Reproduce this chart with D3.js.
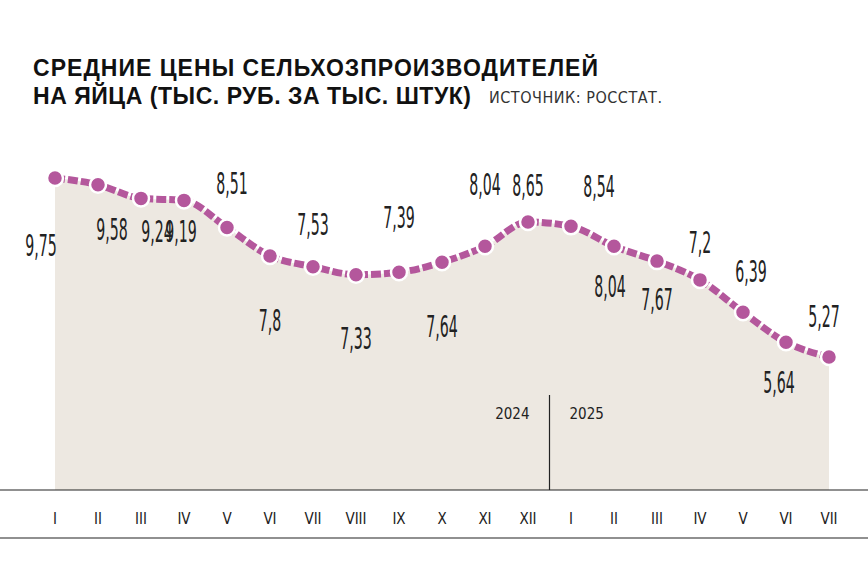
<!DOCTYPE html>
<html><head><meta charset="utf-8">
<script src="https://cdn.jsdelivr.net/npm/d3@7"></script>
<style>body{margin:0;background:#fff}</style>
</head><body>
<svg id="c" width="868" height="569"></svg>
<script>
var months = ["I","II","III","IV","V","VI","VII","VIII","IX","X","XI","XII","I","II","III","IV","V","VI","VII"];
var prices = [9.75,9.58,9.24,9.19,8.51,7.8,7.53,7.33,7.39,7.64,8.04,8.65,8.54,8.04,7.67,7.2,6.39,5.64,5.27];
var labels = ["9,75","9,58","9,24","9,19","8,51","7,8","7,53","7,33","7,39","7,64","8,04","8,65","8,54","8,04","7,67","7,2","6,39","5,64","5,27"];
// label placement relative to each dot
var labelDx = [-14,14,16,-3,5,0,0,0,0,0,0,0,28,-4,0,0,8,-7,-5];
var labelDy = [67,45,33,31,-44,64,-42,64,-55,64,-62,-37,-40,40,38,-38,-41,40,-41];
var years = ["2024","2025"];

var svg = d3.select("#c");
var x = d3.scaleLinear().domain([0, 18]).range([55, 829]);
var y = d3.scaleLinear().domain([5.27, 9.75]).range([357, 178]);
var base = 490;

svg.append("path").datum(prices)
  .attr("d", d3.area().x(function(d,i){return x(i);}).y0(base).y1(function(d){return y(d);}).curve(d3.curveMonotoneX))
  .attr("fill", "#ede8e1");

svg.append("path").datum(prices)
  .attr("d", d3.line().x(function(d,i){return x(i);}).y(function(d){return y(d);}).curve(d3.curveMonotoneX))
  .attr("fill", "none").attr("stroke", "#b4579c").attr("stroke-width", 7)
  .attr("stroke-dasharray", "10,3");

svg.selectAll("circle").data(prices).enter().append("circle")
  .attr("cx", function(d,i){return x(i);}).attr("cy", function(d){return y(d);})
  .attr("r", 8).attr("fill", "#b4579c").attr("stroke", "#fff").attr("stroke-width", 2.5);

svg.selectAll("text.v").data(prices).enter().append("text")
  .attr("class", "v")
  .attr("transform", function(d,i){
    return "translate(" + (x(i) + labelDx[i]) + "," + (y(d) + labelDy[i]) + ") scale(0.75,1.45)";
  })
  .attr("text-anchor", "middle").attr("dy", "0.35em")
  .attr("font-family", "'DejaVu Sans Condensed','Liberation Sans Narrow',sans-serif")
  .attr("font-size", 21).attr("fill", "#222")
  .text(function(d,i){return labels[i];});

svg.append("line").attr("x1", 0).attr("x2", 868).attr("y1", base).attr("y2", base).attr("stroke", "#222").attr("stroke-width", 1.2);
svg.append("line").attr("x1", 0).attr("x2", 868).attr("y1", 538).attr("y2", 538).attr("stroke", "#222").attr("stroke-width", 1.2);
var mid = (x(11) + x(12)) / 2;
svg.append("line").attr("x1", mid).attr("x2", mid).attr("y1", 395).attr("y2", base).attr("stroke", "#222").attr("stroke-width", 1.2);

svg.selectAll("text.m").data(months).enter().append("text")
  .attr("class", "m").attr("x", function(d,i){return x(i);}).attr("y", 524)
  .attr("text-anchor", "middle").attr("font-family", "'DejaVu Sans Condensed',sans-serif")
  .attr("font-size", 15).attr("fill", "#222").text(function(d){return d;});

svg.selectAll("text.yr").data(years).enter().append("text")
  .attr("class", "yr").attr("x", function(d,i){return i ? mid + 20 : mid - 20;}).attr("y", 419)
  .attr("text-anchor", function(d,i){return i ? "start" : "end";})
  .attr("font-family", "'DejaVu Sans Condensed',sans-serif").attr("font-size", 15).attr("fill", "#222")
  .text(function(d){return d;});

var t = svg.append("g").attr("font-family", "'Liberation Sans',Arial,sans-serif").attr("font-weight", "bold").attr("fill", "#111");
t.append("text").attr("x", 33).attr("y", 76).attr("font-size", 23).attr("textLength", 565).text("СРЕДНИЕ ЦЕНЫ СЕЛЬХОЗПРОИЗВОДИТЕЛЕЙ");
t.append("text").attr("x", 33).attr("y", 104).attr("font-size", 23).attr("textLength", 438).text("НА ЯЙЦА (ТЫС. РУБ. ЗА ТЫС. ШТУК)");
svg.append("text").attr("x", 489).attr("y", 103).attr("font-family", "'DejaVu Sans Condensed',sans-serif")
  .attr("font-size", 16).attr("fill", "#333").attr("textLength", 173).text("ИСТОЧНИК:  РОССТАТ.");
</script>
</body></html>
